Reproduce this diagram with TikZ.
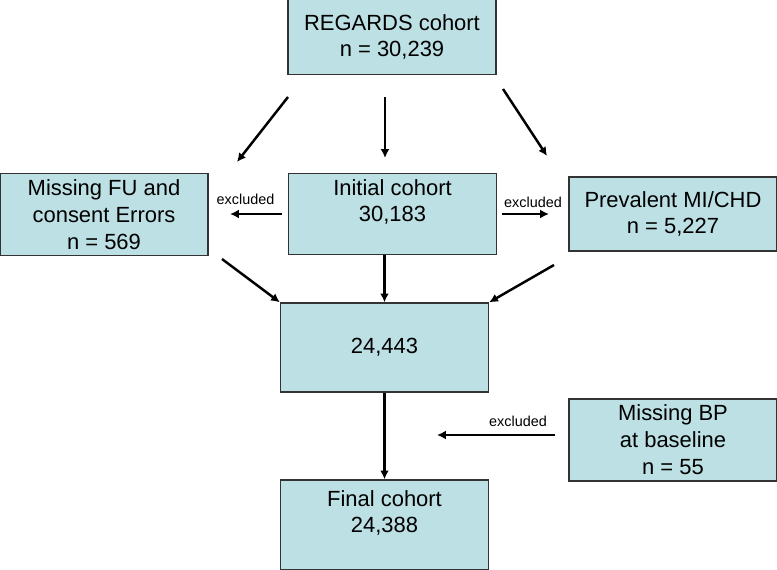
\documentclass[tikz,border=0pt]{standalone}
\usepackage{fontspec}
\setmainfont{Liberation Sans}
\usetikzlibrary{arrows.meta}

\definecolor{boxblue}{RGB}{189,224,228}
\tikzset{
    cbox/.style={draw=black!80, fill=boxblue, line width=0.8pt, minimum width=4.16cm,
        align=center, font=\fontsize{12.5}{15.3}\selectfont},
    arr/.style={-{Latex[length=5pt,width=5pt]}, line width=1.4pt},
    excl/.style={font=\fontsize{8.2}{10}\selectfont}
}

\begin{document}
\begin{tikzpicture}[x=0.02cm, y=-0.02cm]
    \useasboundingbox (0,0) rectangle (777,570);

    \node[cbox, minimum height=1.5cm] (regards) at (392,37) {REGARDS cohort\\n = 30,239};
    \node[cbox, minimum height=1.5cm] (missfu) at (104,214.5) {Missing FU and\\consent Errors\\n = 569};
    \node[cbox, minimum height=1.46cm] (initial) at (392.5,214) {Initial cohort\\30,183\\~};
    \node[cbox, minimum height=1.48cm] (prevalent) at (673,214) {Prevalent MI/CHD\\n = 5,227};
    \node[cbox, minimum height=1.78cm] (mid) at (384.5,347.5) {24,443};
    \node[cbox, minimum height=1.8cm] (final) at (384.5,525) {Final cohort\\24,388\\~};
    \node[cbox, minimum height=1.64cm] (missbp) at (673,440) {Missing BP\\at baseline\\n = 55};

    \coordinate (tl1) at (288,97);
    \coordinate (tl2) at (237,162);
    \coordinate (tm1) at (385,97);
    \coordinate (tm2) at (385,158);
    \coordinate (tr1) at (503,89);
    \coordinate (tr2) at (547,156);
    \coordinate (bl1) at (222,259);
    \coordinate (br1) at (554,265);
    \coordinate (exl1) at (282,214);
    \coordinate (exl2) at (230,214);
    \coordinate (exr1) at (502,214);
    \coordinate (exr2) at (549,214);
    \coordinate (exb1) at (555,435);
    \coordinate (exb2) at (437,435);

    % arrows from the top box
    \draw[arr] (tl1) -- (tl2);
    \draw[arr] (tm1) -- (tm2);
    \draw[arr] (tr1) -- (tr2);

    % exclusions
    \draw[arr] (exl1) -- (exl2);
    \draw[arr] (exr1) -- (exr2);
    \draw[arr] (exb1) -- (exb2);
    \node[excl] (lbl1) at (245.5,199) {excluded};
    \node[excl] (lbl2) at (533,202) {excluded};
    \node[excl] (lbl3) at (518,421) {excluded};

    % into the 24,443 box
    \draw[arr] (bl1) -- (mid.north west);
    \draw[arr] (initial.south -| mid.north) -- (mid.north);
    \draw[arr] (br1) -- (mid.north east);
    \draw[arr] (mid.south) -- (final.north);
\end{tikzpicture}
\end{document}
